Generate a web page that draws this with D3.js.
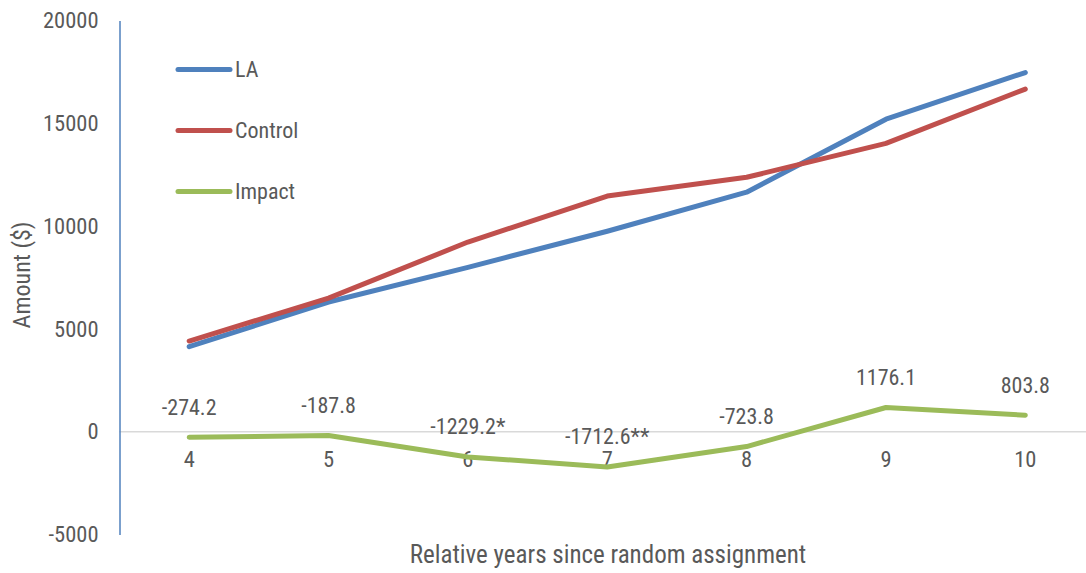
<!DOCTYPE html>
<html><head><meta charset="utf-8">
<script src="https://cdn.jsdelivr.net/npm/d3@7"></script>
<style>
html,body{margin:0;padding:0;background:#fff;}
text{font-family:"Liberation Sans Narrow","Arial Narrow","Roboto Condensed","Liberation Sans",sans-serif;fill:#595959;}
</style></head>
<body><svg id="c" width="1086" height="573"></svg>
<script>
const years = ["4","5","6","7","8","9","10"];
const laValues = [4135, 6308, 7995, 9750, 11650, 15200, 17470];
const controlValues = [4409, 6496, 9224, 11463, 12374, 14024, 16666];
const impactValues = [-274.2, -187.8, -1229.2, -1712.6, -723.8, 1176.1, 803.8];
const impactLabels = ["-274.2", "-187.8", "-1229.2*", "-1712.6**", "-723.8", "1176.1", "803.8"];
const yTicks = [-5000, 0, 5000, 10000, 15000, 20000];
const seriesNames = ["LA", "Control", "Impact"];
const seriesColors = ["#4F81BD", "#C0504D", "#9BBB59"];

const svg = d3.select("#c");
const x = d3.scaleBand().domain(years).range([119.5, 1095]);
const xc = d => x(d) + x.bandwidth() / 2;
const y = d3.scaleLinear().domain([-5000, 20000]).range([534.5, 20.5]);
const FS = 22.5;

// zero line
svg.append("line").attr("x1", 119.5).attr("x2", 1086).attr("y1", y(0)).attr("y2", y(0))
  .attr("stroke", "#d9d9d9").attr("stroke-width", 1.5);

// y axis
const yAxis = d3.axisLeft(y).tickValues(yTicks).tickSize(0).tickPadding(21).tickFormat(d => String(d));
const gy = svg.append("g").attr("transform", "translate(119.5,0)").call(yAxis);
gy.select(".domain").attr("stroke", "#4F81BD").attr("stroke-width", 1.5);
gy.selectAll("text").style("font-size", FS + "px").attr("fill", "#595959");

// x axis labels (at zero line)
const xAxis = d3.axisBottom(x).tickSize(0).tickPadding(19);
const gx = svg.append("g").attr("transform", `translate(0,${y(0)})`).call(xAxis);
gx.select(".domain").remove();
gx.selectAll("text").style("font-size", FS + "px").attr("fill", "#595959");

// axis titles
svg.append("text").attr("transform", "translate(30,275) rotate(-90)").attr("text-anchor", "middle")
  .style("font-size", "24px").text("Amount ($)");
svg.append("text").attr("x", 608).attr("y", 563).attr("text-anchor", "middle")
  .style("font-size", "25px").text("Relative years since random assignment");

// lines
const line = d3.line().x((d, i) => xc(years[i])).y(d => y(d));
[laValues, controlValues, impactValues].forEach((vals, i) => {
  svg.append("path").datum(vals).attr("d", line).attr("fill", "none")
    .attr("stroke", seriesColors[i]).attr("stroke-width", 5)
    .attr("stroke-linejoin", "round").attr("stroke-linecap", "round");
});

// data labels
svg.selectAll(".lbl").data(impactValues).enter().append("text")
  .attr("x", (d, i) => xc(years[i])).attr("y", d => y(d) - 30)
  .attr("text-anchor", "middle").attr("dominant-baseline", "central")
  .style("font-size", "22px").text((d, i) => impactLabels[i]);

// legend
seriesNames.forEach((n, i) => {
  const ly = 69.5 + i * 61;
  svg.append("line").attr("x1", 178).attr("x2", 230).attr("y1", ly).attr("y2", ly)
    .attr("stroke", seriesColors[i]).attr("stroke-width", 5).attr("stroke-linecap", "round");
  svg.append("text").attr("x", 235).attr("y", ly).attr("dominant-baseline", "central")
    .style("font-size", "22px").text(n);
});
</script></body></html>
